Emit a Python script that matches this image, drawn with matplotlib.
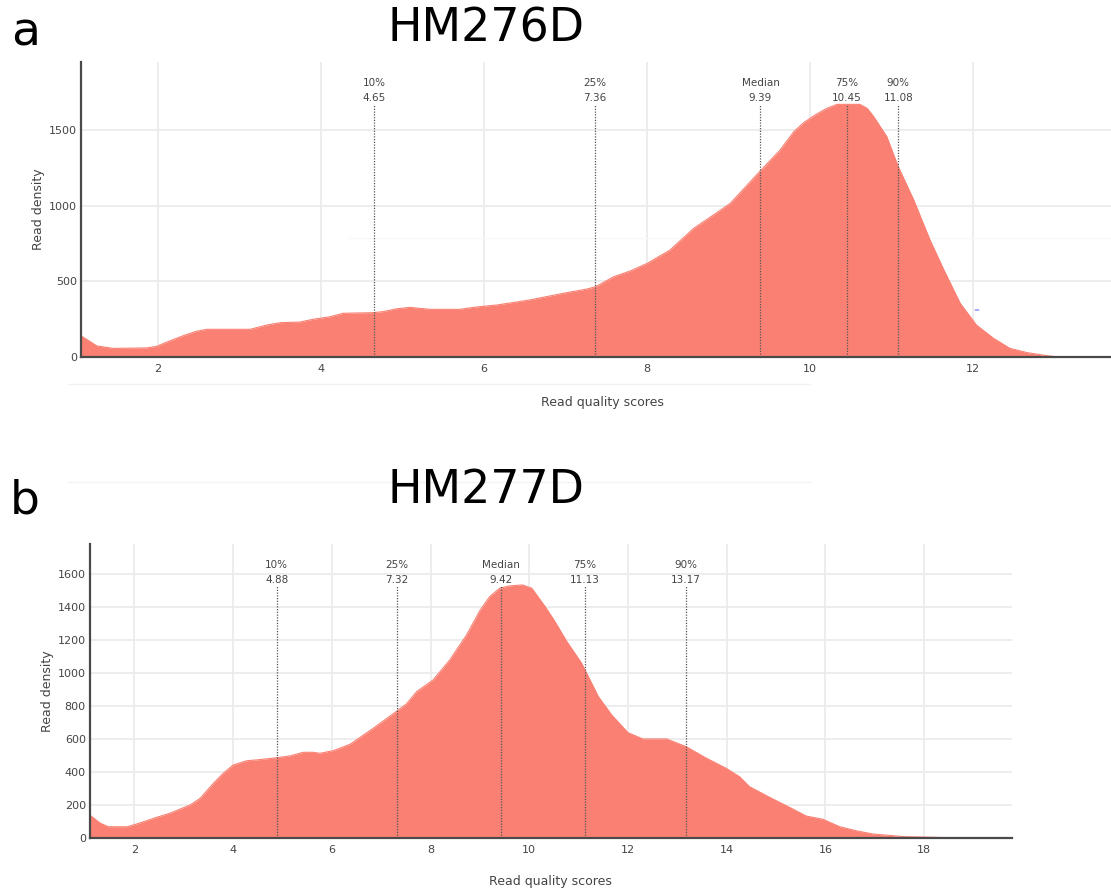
import matplotlib
matplotlib.use("Agg")
import matplotlib.pyplot as plt
import matplotlib.transforms as mtransforms

# read quality density, sample HM276D
qual_a = [1.055, 1.25, 1.45, 1.86, 1.98, 2.15, 2.31, 2.47, 2.6, 3.13, 3.33, 3.5, 3.74, 3.9,
          4.11, 4.27, 4.64, 4.76, 4.93, 5.09, 5.34, 5.7, 5.87, 5.95, 6.16, 6.56, 6.97, 7.26,
          7.37, 7.59, 7.79, 8.0, 8.28, 8.57, 8.81, 9.02, 9.39, 9.63, 9.8, 9.92, 10.06, 10.2,
          10.33, 10.61, 10.7, 10.78, 10.94, 11.08, 11.27, 11.47, 11.64, 11.84, 12.04, 12.25,
          12.45, 12.66, 12.9, 13.05]
dens_a = [140, 73, 57, 60, 70, 108, 141, 170, 183, 183, 211, 227, 231, 249,
          266, 289, 293, 300, 319, 328, 315, 315, 328, 333, 344, 377, 421, 449,
          465, 531, 568, 619, 707, 850, 938, 1016, 1231, 1368, 1490, 1549, 1600, 1643,
          1670, 1670, 1643, 1588, 1456, 1258, 1038, 773, 575, 355, 211, 123,
          57, 29, 9, 0]

# read quality density, sample HM277D
qual_b = [1.10, 1.12, 1.31, 1.47, 1.85, 2.05, 2.45, 2.72, 3.13, 3.33, 3.6, 3.8, 4.0, 4.28,
          4.48, 4.88, 5.15, 5.42, 5.62, 5.76, 6.03, 6.37, 6.84, 7.3, 7.51, 7.72, 8.05, 8.39,
          8.73, 9.0, 9.2, 9.4, 9.6, 9.86, 10.05, 10.32, 10.52, 10.76, 11.06, 11.4, 11.67, 12.0,
          12.3, 12.78, 13.18, 13.59, 13.99, 14.26, 14.46, 14.87, 15.27, 15.61, 15.95, 16.29,
          16.62, 16.96, 17.6, 18.5, 18.6]
dens_b = [138, 135, 91, 70, 70, 87, 127, 152, 202, 242, 333, 394, 444, 470,
          475, 488, 499, 521, 521, 515, 531, 570, 667, 767, 814, 889, 959, 1081,
          1232, 1380, 1465, 1515, 1529, 1535, 1515, 1404, 1313, 1192, 1061, 858, 747, 640,
          602, 602, 555, 485, 424, 373, 313, 248, 188, 135, 115, 70,
          46, 26, 10, 4, 0]

quant_names = ["10%", "25%", "Median", "75%", "90%"]
quant_a = [4.65, 7.36, 9.39, 10.45, 11.08]
quant_b = [4.88, 7.32, 9.42, 11.13, 13.17]

xticks_a = [2, 4, 6, 8, 10, 12]
yticks_a = [0, 500, 1000, 1500]
xticks_b = [2, 4, 6, 8, 10, 12, 14, 16, 18]
yticks_b = [0, 200, 400, 600, 800, 1000, 1200, 1400, 1600]

FILL = "#F98072"
TXT = "#444444"
GRID = "#ececec"

plt.rcParams["font.family"] = ["DejaVu Sans"]

W, H = 1111, 892
fig = plt.figure(figsize=(W / 100, H / 100), dpi=100)


def px_rect(left, top, right, bottom):
    return [left / W, 1 - bottom / H, (right - left) / W, (bottom - top) / H]


def density_panel(ax, xs, ys, quants, xlim, ylim, xticks, yticks, ylab_x, xlab_y):
    ax.fill_between(xs, ys, 0, color=FILL, lw=0, zorder=2)
    ax.plot(xs, ys, color=FILL, lw=0.8, zorder=2)
    ax.set_xlim(*xlim)
    ax.set_ylim(*ylim)
    ax.set_xticks(xticks)
    ax.set_yticks(yticks)
    ax.grid(True, color=GRID, lw=1.3, zorder=0)
    ax.set_axisbelow(True)
    ax.tick_params(length=0, labelsize=8, labelcolor=TXT)
    ax.tick_params(axis="x", pad=5)
    ax.tick_params(axis="y", pad=3)
    for s in ["top", "right"]:
        ax.spines[s].set_visible(False)
    for s in ["left", "bottom"]:
        ax.spines[s].set_color("#4a4a4a")
        ax.spines[s].set_linewidth(1.6)
        ax.spines[s].set_zorder(4)
    ax.set_ylabel("Read density", fontsize=9, color=TXT)
    ax.yaxis.set_label_coords(ylab_x, 0.5)
    ax.set_xlabel("Read quality scores", fontsize=9, color=TXT)
    ax.xaxis.set_label_coords(0.5, xlab_y)

    trans = mtransforms.blended_transform_factory(ax.transData, ax.transAxes)
    for name, q in zip(quant_names, quants):
        ax.axvline(q, ymin=0, ymax=0.858, color="#555555", lw=0.9,
                   ls=(0, (1, 1.2)), zorder=3)
        ax.text(q, 0.928, name, transform=trans, ha="center", va="center",
                fontsize=7.5, color=TXT)
        ax.text(q, 0.879, f"{q:.2f}", transform=trans, ha="center", va="center",
                fontsize=7.5, color=TXT)


ax_a = fig.add_axes(px_rect(81, 62, 1111, 357))
density_panel(ax_a, qual_a, dens_a, quant_a, (1.055, 13.69), (0, 1950),
              xticks_a, yticks_a, -0.035, -0.133)
ax_a.xaxis.set_label_coords(0.506, -0.133)
# faint helper line in the upper panel
ax_a.plot([4.33, 13.69], [786, 786], color="#f7f7f7", lw=1, zorder=1)
ax_a.text(12.04, 310, "=", color="#6a6aff", fontsize=5, ha="center", va="center")

ax_b = fig.add_axes(px_rect(90, 544, 1011.5, 838.3))
density_panel(ax_b, qual_b, dens_b, quant_b, (1.10, 19.77), (0, 1783),
              xticks_b, yticks_b, -0.039, -0.124)

# faint separators across the figure
fig.add_artist(plt.Line2D([68 / W, 810 / W], [1 - 384 / H, 1 - 384 / H],
                          color="#f2f2f2", lw=1))
fig.add_artist(plt.Line2D([68 / W, 810 / W], [1 - 482 / H, 1 - 482 / H],
                          color="#f2f2f2", lw=1))

fig.text(486 / W, 1 - 42 / H, "HM276D", fontsize=33, ha="center", va="baseline")
fig.text(486 / W, 1 - 503 / H, "HM277D", fontsize=33, ha="center", va="baseline")
fig.text(11 / W, 1 - 45 / H, "a", fontsize=34, ha="left", va="baseline")
fig.text(10 / W, 1 - 513 / H, "b", fontsize=34, ha="left", va="baseline")

fig.savefig("out.png", dpi=100)
